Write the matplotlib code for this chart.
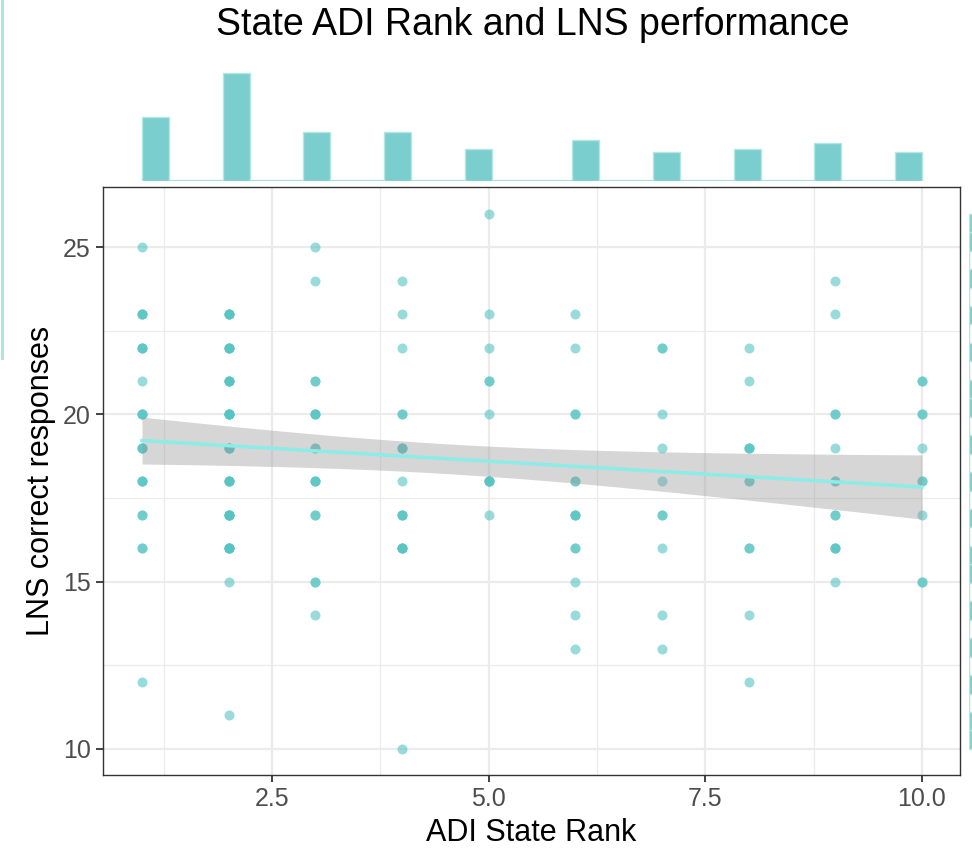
import matplotlib
matplotlib.use("Agg")
import matplotlib.pyplot as plt
from matplotlib.lines import Line2D
import numpy as np

plt.rcParams["font.family"] = ["Liberation Sans", "DejaVu Sans"]

# ADI state rank (x) -> LNS correct responses (y) and how many subjects share that pair
ranks = [1, 2, 3, 4, 5, 6, 7, 8, 9, 10]
lns_values = {
    1: [25, 23, 22, 21, 20, 19, 18, 17, 16, 12],
    2: [23, 22, 21, 20, 19, 18, 17, 16, 15, 11],
    3: [25, 24, 21, 20, 19, 18, 17, 15, 14],
    4: [24, 23, 22, 20, 19, 18, 17, 16, 10],
    5: [26, 23, 22, 21, 20, 18, 17],
    6: [23, 22, 20, 18, 17, 16, 15, 14, 13],
    7: [22, 20, 19, 18, 17, 16, 14, 13],
    8: [22, 21, 19, 18, 16, 14, 12],
    9: [24, 23, 20, 19, 18, 17, 16, 15],
    10: [21, 20, 19, 18, 17, 15],
}
lns_counts = {
    1: [1, 3, 3, 1, 3, 3, 3, 2, 2, 1],
    2: [4, 4, 4, 5, 4, 4, 5, 5, 1, 1],
    3: [1, 1, 2, 3, 2, 3, 2, 2, 1],
    4: [1, 1, 1, 2, 3, 1, 3, 4, 1],
    5: [1, 1, 1, 2, 1, 4, 1],
    6: [1, 1, 2, 2, 3, 2, 1, 1, 1],
    7: [2, 1, 1, 1, 2, 1, 1, 1],
    8: [1, 1, 3, 2, 2, 1, 1],
    9: [1, 1, 2, 1, 2, 2, 3, 1],
    10: [2, 2, 1, 2, 1, 2],
}

# expand to one row per subject
x = []
y = []
for r in ranks:
    for v, n in zip(lns_values[r], lns_counts[r]):
        x += [r] * n
        y += [v] * n
x = np.array(x, dtype=float)
y = np.array(y, dtype=float)

point_col = "#55C4C2"
bar_col = "#7BCECE"
edge_col = "#B4E6E4"
base_col = "#A6DEDC"
line_col = "#8CECE8"

# linear fit with 95% confidence band
slope, intercept = np.polyfit(x, y, 1)
xs = np.linspace(x.min(), x.max(), 80)
fit = intercept + slope * xs
resid = y - (intercept + slope * x)
n = len(x)
s = np.sqrt(np.sum(resid ** 2) / (n - 2))
t_val = 1.975
se = s * np.sqrt(1 / n + (xs - x.mean()) ** 2 / np.sum((x - x.mean()) ** 2))

W, H = 972, 849
fig = plt.figure(figsize=(W / 100, H / 100), dpi=100)

# main scatter panel
ax = fig.add_axes([103 / W, 1 - 775 / H, 857 / W, 588 / H])
ax.fill_between(xs, fit - t_val * se, fit + t_val * se, color="#999999", alpha=0.4, lw=0, zorder=3)
ax.scatter(x, y, s=52, color=point_col, alpha=0.6, lw=0, zorder=2)
ax.plot(xs, fit, color=line_col, lw=2.5, zorder=4)

ax.set_xlim(0.55, 10.44)
ax.set_ylim(9.22, 26.8)
ax.set_xticks([2.5, 5.0, 7.5, 10.0])
ax.set_xticklabels(["2.5", "5.0", "7.5", "10.0"])
ax.set_yticks([10, 15, 20, 25])
ax.set_xticks([1.25, 3.75, 6.25, 8.75], minor=True)
ax.set_yticks([12.5, 17.5, 22.5], minor=True)
ax.grid(which="major", color="#EBEBEB", lw=1.6, zorder=0)
ax.grid(which="minor", color="#EBEBEB", lw=0.9, zorder=0)
ax.set_axisbelow(True)
ax.tick_params(which="major", length=5, width=1.3, color="#333333", labelsize=18, labelcolor="#4D4D4D", pad=4)
ax.tick_params(which="minor", length=0)
for sp in ax.spines.values():
    sp.set_color("#333333")
    sp.set_linewidth(1.0)
ax.set_xlabel("ADI State Rank", fontsize=22, labelpad=5)
ax.set_ylabel("LNS correct responses", fontsize=22, labelpad=5)

# top marginal histogram of ranks
bins_x = np.linspace(x.min(), x.max(), 30)
axt = fig.add_axes([103 / W, 1 - 181 / H, 857 / W, 116 / H], sharex=ax)
axt.hist(x, bins=bins_x, color=bar_col, edgecolor=edge_col, lw=1.0)
axt.hlines(0, bins_x[0], bins_x[-1], color=base_col, lw=1.6, zorder=0)
axt.set_ylim(0, 116 / 2.91)
axt.axis("off")

# right marginal histogram of LNS (mostly cut off by the figure edge)
bins_y = np.linspace(y.min(), y.max(), 30)
axr = fig.add_axes([969 / W, 1 - 775 / H, 120 / W, 588 / H], sharey=ax)
axr.hist(y, bins=bins_y, orientation="horizontal", color=bar_col, edgecolor=edge_col, lw=1.0)
axr.vlines(0, bins_y[0], bins_y[-1], color=base_col, lw=1.6, zorder=0)
axr.set_xlim(0, 40)
axr.axis("off")

# thin leftover panel edge on the far left
fig.add_artist(Line2D([0.002, 0.002], [1.0, 1 - 358 / H], color="#A6E5DA", lw=2))

fig.text(533 / W, 1 - 25 / H, "State ADI Rank and LNS performance", fontsize=27, ha="center", va="center")

fig.savefig("out.png", dpi=100)
